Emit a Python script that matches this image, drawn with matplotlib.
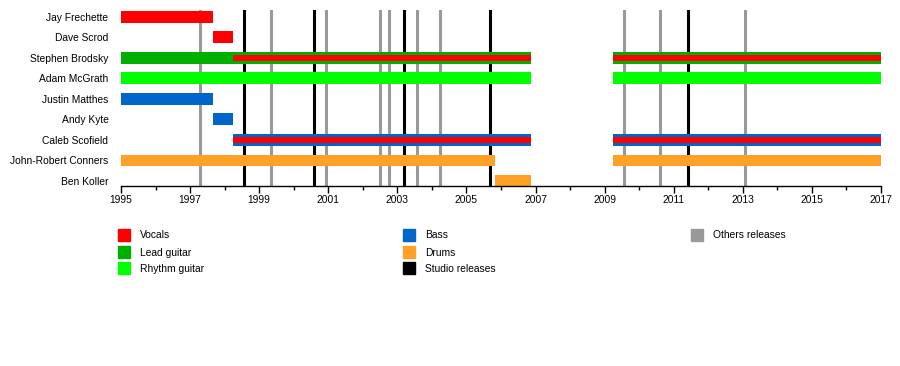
import matplotlib
matplotlib.use("Agg")
import matplotlib.pyplot as plt
from matplotlib.patches import Rectangle

plt.rcParams['font.family'] = ['Liberation Sans', 'DejaVu Sans']

members = ["Jay Frechette", "Dave Scrod", "Stephen Brodsky", "Adam McGrath",
           "Justin Matthes", "Andy Kyte", "Caleb Scofield", "John-Robert Conners",
           "Ben Koller"]

colors = {
    "Vocals": "#FF0000",
    "Lead guitar": "#00B000",
    "Rhythm guitar": "#00FF00",
    "Bass": "#0066CC",
    "Drums": "#FFA126",
    "Studio releases": "#000000",
    "Others releases": "#999999",
}

# main bars
bar_member = ["Jay Frechette", "Dave Scrod", "Stephen Brodsky", "Stephen Brodsky",
              "Adam McGrath", "Adam McGrath", "Justin Matthes", "Andy Kyte",
              "Caleb Scofield", "Caleb Scofield", "John-Robert Conners",
              "John-Robert Conners", "Ben Koller"]
bar_start = [1995.0, 1997.66, 1995.0, 2009.23, 1995.0, 2009.23, 1995.0, 1997.66,
             1998.24, 2009.23, 1995.0, 2009.23, 2005.83]
bar_end = [1997.66, 1998.24, 2006.86, 2017.0, 2006.86, 2017.0, 1997.66, 1998.24,
           2006.86, 2017.0, 2005.83, 2017.0, 2006.86]
bar_role = ["Vocals", "Vocals", "Lead guitar", "Lead guitar", "Rhythm guitar",
            "Rhythm guitar", "Bass", "Bass", "Bass", "Bass", "Drums", "Drums", "Drums"]

# secondary (inner stripe) roles
stripe_member = ["Stephen Brodsky", "Stephen Brodsky", "Caleb Scofield", "Caleb Scofield"]
stripe_start = [1998.24, 2009.23, 1998.24, 2009.23]
stripe_end = [2006.86, 2017.0, 2006.86, 2017.0]
stripe_role = ["Vocals", "Vocals", "Vocals", "Vocals"]

studio_releases = [1998.57, 2000.59, 2003.20, 2005.69, 2011.41]
other_releases = [1997.30, 1999.35, 2000.94, 2002.51, 2002.77, 2003.57, 2004.24,
                  2009.56, 2010.60, 2013.06]

year_ticks = list(range(1995, 2018, 2))

W, H = 900, 366
fig = plt.figure(figsize=(W / 100, H / 100), dpi=100)
ax = fig.add_axes([121 / W, 1 - 186 / H, 760 / W, 176 / H])

for x in other_releases:
    ax.axvline(x, color=colors["Others releases"], lw=2.2, zorder=1)
for x in studio_releases:
    ax.axvline(x, color=colors["Studio releases"], lw=2.2, zorder=1)

ypos = {m: i for i, m in enumerate(members)}
for m, s, e, r in zip(bar_member, bar_start, bar_end, bar_role):
    ax.barh(ypos[m], e - s, left=s, height=0.585, color=colors[r], lw=0, zorder=2)
for m, s, e, r in zip(stripe_member, stripe_start, stripe_end, stripe_role):
    ax.barh(ypos[m], e - s, left=s, height=0.25, color=colors[r], lw=0, zorder=3)

ax.set_xlim(1995, 2017)
ax.set_ylim(8.244, -0.341)
ax.set_yticks(range(len(members)))
ax.set_yticklabels(members, fontsize=7.4)
ax.tick_params(axis='y', length=0, pad=9)
ax.set_xticks(year_ticks)
ax.set_xticklabels([str(y) for y in year_ticks], fontsize=7.4)
ax.set_xticks(range(1995, 2018), minor=True)
ax.tick_params(axis='x', which='major', length=5, width=1, pad=1.5, direction='out')
ax.tick_params(axis='x', which='minor', length=3, width=1, direction='out')
for s in ['left', 'right', 'top']:
    ax.spines[s].set_visible(False)
ax.spines['bottom'].set_linewidth(1)
ax.spines['bottom'].set_zorder(4)

# legend drawn in pixel positions
legend_items = [
    ("Vocals", 118, 229), ("Lead guitar", 118, 246), ("Rhythm guitar", 118, 262),
    ("Bass", 403, 229), ("Drums", 403, 246), ("Studio releases", 403, 262),
    ("Others releases", 691, 229),
]
for label, px, py in legend_items:
    fig.patches.append(Rectangle((px / W, 1 - (py + 12) / H), 12 / W, 12 / H,
                                 transform=fig.transFigure, color=colors[label]))
    fig.text((px + 22) / W, 1 - (py + 6.5) / H, label, fontsize=7.4,
             va='center', ha='left')

fig.savefig("out.png", dpi=100)
